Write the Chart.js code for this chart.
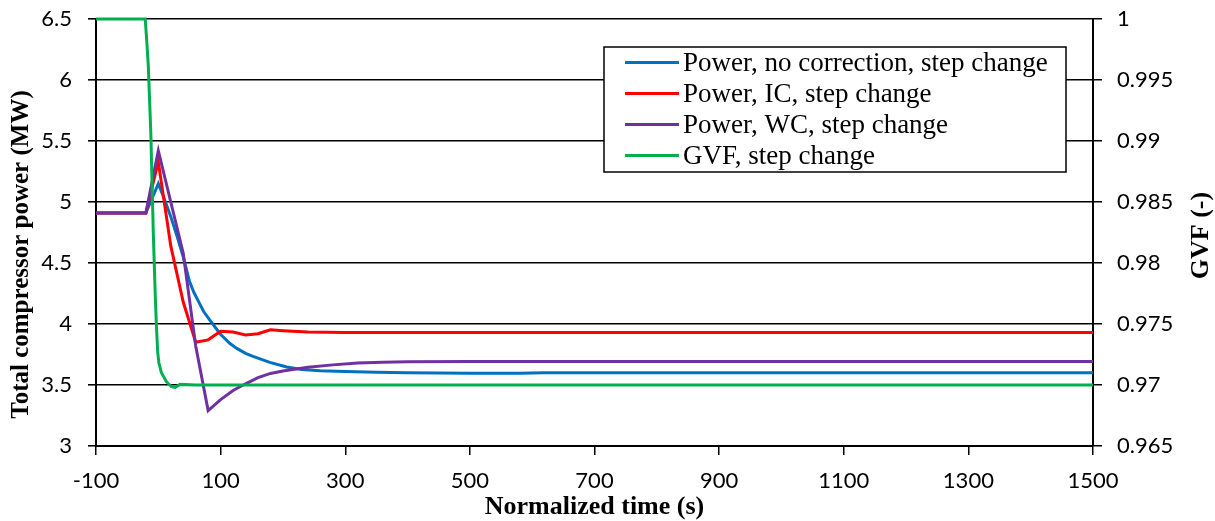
<!DOCTYPE html>
<html>
<head>
<meta charset="utf-8">
<script src="https://cdn.jsdelivr.net/npm/chart.js@4/dist/chart.umd.min.js"></script>
<style>
  html, body { margin: 0; padding: 0; background: #fff; }
  #wrap { width: 1215px; height: 521px; }
</style>
</head>
<body>
<div id="wrap"><canvas id="c" width="1215" height="521"></canvas></div>
<script>
// Axis ticks
const timeTicks = [-100, 100, 300, 500, 700, 900, 1100, 1300, 1500];
const powerTicks = [3, 3.5, 4, 4.5, 5, 5.5, 6, 6.5];
const gvfTicks = [0.965, 0.97, 0.975, 0.98, 0.985, 0.99, 0.995, 1];

// Series labels and colours
const seriesNames = [
  'Power, no correction, step change',
  'Power, IC, step change',
  'Power, WC, step change',
  'GVF, step change'
];
const seriesColors = ['#0070C0', '#FF0000', '#7030A0', '#00B050'];

// Power, no correction (MW)
const timeNoCorr = [-100, -20, 0, 10, 20, 30, 40, 50, 57, 64, 73, 83, 99, 115, 126, 140, 152, 179, 206, 230, 260, 300, 350, 400, 500, 580, 620, 1500];
const powerNoCorr = [4.91, 4.91, 5.15, 5.02, 4.88, 4.72, 4.55, 4.35, 4.26, 4.19, 4.10, 4.03, 3.92, 3.84, 3.80, 3.76, 3.735, 3.685, 3.648, 3.628, 3.617, 3.61, 3.604, 3.60, 3.597, 3.597, 3.60, 3.60];

// Power, IC (MW)
const timeIC = [-100, -20, 0, 20, 40, 60, 80, 100, 120, 140, 160, 180, 200, 240, 300, 1500];
const powerIC = [4.91, 4.91, 5.33, 4.64, 4.18, 3.85, 3.87, 3.94, 3.935, 3.91, 3.92, 3.952, 3.945, 3.935, 3.93, 3.93];

// Power, WC (MW)
const timeWC = [-100, -20, 0, 20, 40, 60, 80, 100, 120, 140, 160, 180, 200, 240, 280, 320, 360, 400, 500, 1500];
const powerWC = [4.91, 4.91, 5.42, 5.0, 4.58, 3.82, 3.29, 3.38, 3.455, 3.51, 3.56, 3.595, 3.615, 3.645, 3.665, 3.68, 3.687, 3.69, 3.692, 3.692];

// Gas volume fraction (-)
const timeGVF = [-100, -21, -18, -16, -12, -8, -5, -3, -1, 1, 5, 13, 21, 27, 35, 60, 1500];
const gvf = [1, 1, 0.9978, 0.9961, 0.9906, 0.9824, 0.9775, 0.9748, 0.9727, 0.9718, 0.9710, 0.97027, 0.96986, 0.96981, 0.97005, 0.97, 0.97];

function pts(xs, ys) { return xs.map((x, i) => ({ x: x, y: ys[i] })); }
function fixTicks(values) {
  return function (axis) { axis.ticks = values.map(v => ({ value: v })); };
}

const tickFont = { family: 'Lato', size: 22 };
const titleFamily = '"Liberation Serif", "Times New Roman", serif';

// Boxed legend inside the plot and rotated axis titles
const annotations = {
  id: 'annotations',
  afterDraw(chart) {
    const ctx = chart.ctx;
    const area = chart.chartArea;
    const midY = (area.top + area.bottom) / 2;
    ctx.save();

    // left axis title
    ctx.fillStyle = '#000';
    ctx.font = 'bold 25px ' + titleFamily;
    ctx.textAlign = 'center';
    ctx.textBaseline = 'middle';
    ctx.translate(22, midY + 22);
    ctx.rotate(-Math.PI / 2);
    ctx.fillText('Total compressor power (MW)', 0, 0);
    ctx.setTransform(1, 0, 0, 1, 0, 0);

    // right axis title
    ctx.font = 'bold 26px ' + titleFamily;
    ctx.translate(1201, midY + 3);
    ctx.rotate(-Math.PI / 2);
    ctx.fillText('GVF (-)', 0, 0);
    ctx.setTransform(1, 0, 0, 1, 0, 0);

    // legend
    const bx = area.left + 508, by = area.top + 28, bw = 462, bh = 125;
    ctx.fillStyle = '#fff';
    ctx.fillRect(bx, by, bw, bh);
    ctx.strokeStyle = '#000';
    ctx.lineWidth = 1.5;
    ctx.strokeRect(bx, by, bw, bh);
    ctx.font = '27px ' + titleFamily;
    ctx.textAlign = 'left';
    ctx.textBaseline = 'alphabetic';
    chart.data.datasets.forEach((ds, i) => {
      const y = by + 15.5 + i * 31;
      ctx.strokeStyle = ds.borderColor;
      ctx.lineWidth = 3;
      ctx.beginPath();
      ctx.moveTo(bx + 21, y);
      ctx.lineTo(bx + 75, y);
      ctx.stroke();
      ctx.fillStyle = '#000';
      ctx.fillText(ds.label, bx + 79, y + 8.5);
    });
    ctx.restore();
  }
};

const lineStyle = { borderWidth: 3, pointRadius: 0, tension: 0, fill: false };

function noVerticalPad(s) { s.paddingTop = 0; s.paddingBottom = 0; }

new Chart(document.getElementById('c'), {
  type: 'line',
  data: {
    datasets: [
      Object.assign({ label: seriesNames[0], data: pts(timeNoCorr, powerNoCorr), borderColor: seriesColors[0], yAxisID: 'y', order: 4 }, lineStyle),
      Object.assign({ label: seriesNames[1], data: pts(timeIC, powerIC), borderColor: seriesColors[1], yAxisID: 'y', order: 3 }, lineStyle),
      Object.assign({ label: seriesNames[2], data: pts(timeWC, powerWC), borderColor: seriesColors[2], yAxisID: 'y', order: 2 }, lineStyle),
      Object.assign({ label: seriesNames[3], data: pts(timeGVF, gvf), borderColor: seriesColors[3], yAxisID: 'y2', order: 1, clip: 4 }, lineStyle)
    ]
  },
  options: {
    responsive: false,
    animation: false,
    devicePixelRatio: 1,
    layout: { padding: { top: 19, left: 0, right: 0, bottom: 0 } },
    plugins: { legend: { display: false }, tooltip: { enabled: false } },
    scales: {
      x: {
        type: 'linear',
        min: -100, max: 1500,
        afterBuildTicks: fixTicks(timeTicks),
        afterFit(s) { s.height = 75; s.paddingLeft = 0; s.paddingRight = 0; },
        grid: { drawOnChartArea: false, color: '#000', lineWidth: 1.5, tickLength: 9 },
        border: { color: '#000', width: 2 },
        ticks: { font: tickFont, color: '#000', padding: 13, maxRotation: 0, autoSkip: false, callback: v => String(v) },
        title: {
          display: true, text: 'Normalized time (s)', color: '#000',
          font: { family: titleFamily, size: 26, weight: 'bold' },
          padding: { top: 0, bottom: -2 }
        }
      },
      y: {
        type: 'linear', position: 'left',
        min: 3, max: 6.5,
        afterBuildTicks: fixTicks(powerTicks),
        afterFit(s) { s.width = 96; noVerticalPad(s); },
        grid: { color: '#000', lineWidth: 1.6, tickLength: 8 },
        border: { color: '#000', width: 2 },
        ticks: { font: tickFont, color: '#000', padding: 16, callback: v => String(v) }
      },
      y2: {
        type: 'linear', position: 'right',
        min: 0.965, max: 1,
        afterBuildTicks: fixTicks(gvfTicks),
        afterFit(s) { s.width = 122; noVerticalPad(s); },
        grid: { drawOnChartArea: false, color: '#000', lineWidth: 1.5, tickLength: 9 },
        border: { color: '#000', width: 2 },
        ticks: { font: tickFont, color: '#000', padding: 15, callback: v => String(+v.toFixed(3)) }
      }
    }
  },
  plugins: [annotations]
});
</script>
</body>
</html>
